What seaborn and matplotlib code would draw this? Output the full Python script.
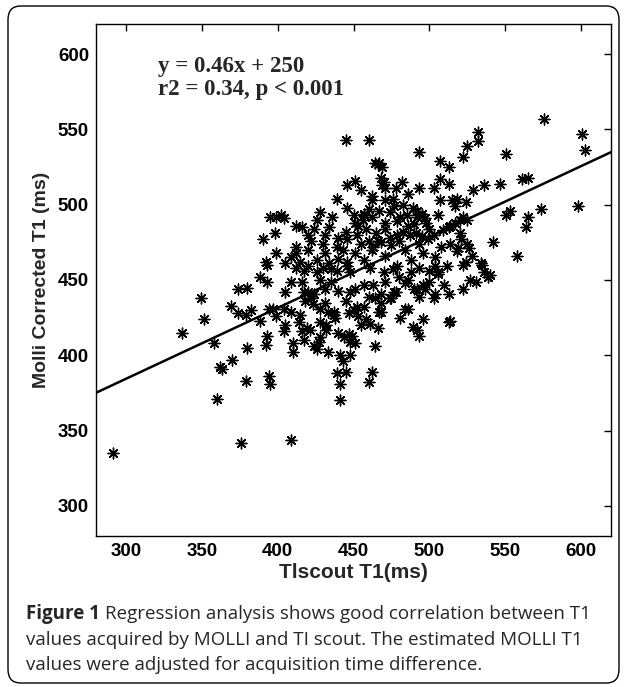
import numpy as np
import pandas as pd
import seaborn as sns
import matplotlib.pyplot as plt
from matplotlib.patches import FancyBboxPatch

# --- dados (TIscout T1 x MOLLI corrigido, em ms) ---
tscout_t1 = [
    291, 376, 409, 360, 441, 379, 394, 395, 362, 363, 370, 380, 392, 393, 358, 337, 351, 349, 369, 374,
    379, 382, 388, 394, 374, 380, 388, 393, 393, 392, 390, 395, 399, 402, 404, 412, 398, 412, 412, 399,
    445, 460, 493, 507, 466, 467, 464, 469, 468, 470, 469, 471, 446, 451, 455, 482, 478, 486, 493, 503,
    507, 507, 439, 462, 462, 471, 476, 446, 450, 460, 457, 489, 492, 495, 492, 497, 506, 426, 424, 436,
    434, 431, 451, 453, 456, 457, 471, 471, 479, 481, 485, 486, 446, 439, 460, 463, 468, 483, 487, 491,
    495, 500,
    576, 601, 603, 532, 532, 525, 522, 551, 513, 561, 565, 547, 536, 529, 513, 515, 518, 517, 524, 574,
    598, 553, 551, 565, 564, 522, 517, 514, 520, 525, 513, 520, 521, 525, 526, 519, 542, 514, 528, 524,
    534, 558, 518, 522, 535, 536, 539, 540, 527, 531, 522, 513, 514, 513,
    409, 416, 405, 417, 397, 399, 405, 404, 410, 410, 416, 417, 424, 426, 428, 427, 433, 441, 448, 443,
    445, 439, 441, 464, 462, 460, 440, 444, 447, 449, 448, 451, 455, 461, 466, 450, 452, 447, 457, 468,
    437, 438, 437, 414, 419, 421, 428, 432, 432, 481, 484, 486, 489, 493, 492, 496, 503, 492, 497, 493,
    478, 474, 468, 467,
    412, 417, 420, 426, 430, 435, 439, 446, 448, 461, 470, 476, 479, 488, 493, 500, 504, 506,
    420, 422, 431, 428, 435, 440, 448, 451, 457, 460, 464, 468, 475, 477, 484, 490, 496, 504, 506,
    426, 431, 434, 440, 443, 446, 451, 455, 457, 462, 466, 471, 475, 479, 484, 488, 493, 496, 499, 504, 508,
    405, 409, 415, 420, 422, 418, 423, 424, 428, 431, 433, 404, 409, 415,
    445, 452, 458, 465, 474, 480, 490, 498, 503, 509, 462, 467, 474, 477, 483, 440, 430, 420, 416, 428,
    445, 453, 458, 463, 471, 480, 486, 500, 510, 512,
]
molli_t1 = [
    335, 342, 344, 371, 370, 383, 386, 381, 392, 391, 397, 405, 407, 413, 408, 415, 424, 438, 433, 428,
    427, 430, 423, 431, 444, 445, 452, 449, 460, 462, 477, 492, 492, 493, 491, 486, 481, 472, 468, 468,
    543, 543, 535, 529, 527, 528, 528, 525, 518, 515, 513, 511, 513, 516, 510, 515, 511, 507, 511, 511,
    517, 503, 504, 506, 503, 503, 504, 498, 493, 497, 493, 498, 496, 494, 492, 491, 493, 490, 484, 492,
    485, 480, 488, 486, 490, 494, 488, 484, 489, 492, 493, 486, 477, 472, 476, 472, 475, 482, 480, 481,
    479, 484,
    557, 547, 536, 548, 542, 539, 532, 534, 525, 517, 518, 514, 513, 510, 514, 503, 504, 499, 502, 497,
    499, 496, 493, 492, 485, 492, 488, 486, 490, 490, 485, 481, 477, 474, 471, 471, 475, 474, 466, 462,
    461, 466, 469, 460, 460, 455, 452, 453, 450, 449, 444, 441, 423, 422,
    449, 449, 442, 442, 431, 426, 420, 416, 408, 402, 416, 410, 406, 404, 412, 409, 402, 400, 400, 396,
    389, 388, 381, 406, 389, 382, 415, 412, 414, 413, 409, 408, 420, 421, 418, 430, 432, 428, 432, 429,
    429, 425, 427, 422, 418, 417, 422, 420, 417, 425, 431, 431, 419, 413, 417, 424, 438, 444, 444, 439,
    442, 438, 435, 429,
    458, 456, 459, 455, 458, 457, 456, 459, 455, 458, 455, 457, 459, 455, 458, 456, 459, 454,
    442, 438, 444, 450, 449, 443, 442, 444, 447, 439, 438, 441, 438, 442, 448, 444, 447, 441, 455,
    463, 468, 461, 464, 470, 462, 468, 474, 463, 470, 476, 466, 473, 480, 470, 463, 474, 468, 477, 465, 472,
    461, 465, 462, 470, 476, 436, 434, 441, 431, 435, 429, 431, 429, 427,
    482, 480, 484, 481, 478, 476, 487, 488, 480, 483, 492, 496, 495, 499, 500, 478, 474, 480, 485, 495,
    436, 426, 424, 447, 449, 452, 450, 449, 447, 459,
]

# reta de regressao como aparece desenhada
fit_slope = 0.47
fit_intercept = 243.5
eq_text = 'y = 0.46x + 250\nr2 = 0.34, p < 0.001'

x_ticks = [300, 350, 400, 450, 500, 550, 600]
y_ticks = [300, 350, 400, 450, 500, 550, 600]

caption_bold = 'Figure 1'
caption_lines = ['Regression analysis shows good correlation between T1',
                 'values acquired by MOLLI and TI scout. The estimated MOLLI T1',
                 'values were adjusted for acquisition time difference.']

df = pd.DataFrame({'tscout': tscout_t1, 'molli': molli_t1})

sns.set_style('white')
plt.rcParams['font.family'] = ['Liberation Sans', 'DejaVu Sans']

fig = plt.figure(figsize=(6.27, 6.87), dpi=100)
ax = fig.add_axes([96 / 627, 1 - 536 / 687, 515 / 627, 512 / 687])

sns.scatterplot(data=df, x='tscout', y='molli', marker=(8, 2, 0), s=60,
                color='black', edgecolor='black', linewidth=1.0, ax=ax, legend=False)

line_x = np.array([280, 620])
sns.lineplot(x=line_x, y=fit_intercept + fit_slope * line_x, color='black', linewidth=1.8, ax=ax)

ax.set_xlim(280, 620)
ax.set_ylim(280, 620)
ax.set_xticks(x_ticks)
ax.set_yticks(y_ticks)
ax.tick_params(direction='in', length=5, width=1, top=True, right=True,
               labelsize=13.5, pad=5, colors='black')
for lab in ax.get_xticklabels() + ax.get_yticklabels():
    lab.set_fontweight('bold')
for sp in ax.spines.values():
    sp.set_color('black')
    sp.set_linewidth(1)

ax.set_xlabel('Tlscout T1(ms)', fontsize=15, fontweight='bold', labelpad=2)
ax.set_ylabel('Molli Corrected T1 (ms)', fontsize=14, fontweight='bold', labelpad=6)

ax.text(321, 584, eq_text, fontsize=16.5, fontweight='bold', family='Liberation Serif',
        va='center', ha='left', linespacing=1.1)

# legenda da figura (caption)
rend = fig.canvas.get_renderer()
cap_y = [614, 640, 665]
t1 = fig.text(26 / 627, 1 - cap_y[0] / 687, caption_bold, fontsize=13.5, fontweight='bold',
              family='Open Sans', va='center')
bb = t1.get_window_extent(rend)
fig.text((bb.x1 + 5) / 627, 1 - cap_y[0] / 687, caption_lines[0],
         fontsize=13.5, family='Open Sans', va='center')
for yy, line in zip(cap_y[1:], caption_lines[1:]):
    fig.text(26 / 627, 1 - yy / 687, line, fontsize=13.5, family='Open Sans', va='center')

# moldura externa
frame = FancyBboxPatch((8 / 627, 4 / 687), 611 / 627, 677 / 687,
                       boxstyle='round,pad=0,rounding_size=0.02',
                       transform=fig.transFigure, fill=False, edgecolor='black', linewidth=1)
fig.patches.append(frame)

fig.savefig('out.png', dpi=100)
